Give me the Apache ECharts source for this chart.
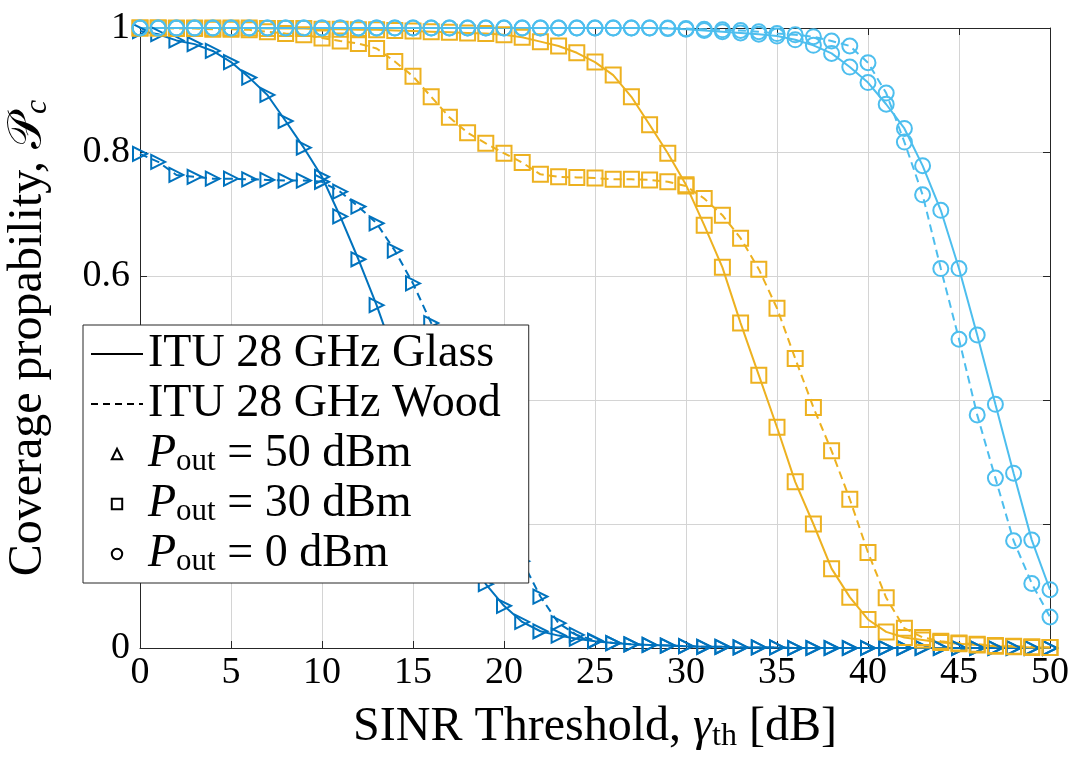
<!DOCTYPE html>
<html>
<head>
<meta charset="utf-8">
<script src="https://cdn.jsdelivr.net/npm/echarts@6/dist/echarts.min.js"></script>
<style>
  html, body { margin: 0; padding: 0; background: #fff; }
  #chart { width: 1071px; height: 758px; }
</style>
</head>
<body>
<div id="chart"></div>
<script>
// SINR threshold values [dB]
const sinrDb = [0,1,2,3,4,5,6,7,8,9,10,11,12,13,14,15,16,17,18,19,20,21,22,23,24,25,
  26,27,28,29,30,31,32,33,34,35,36,37,38,39,40,41,42,43,44,45,46,47,48,49,50];

// Coverage probability, P_out = 50 dBm
const glass50 = [0.995,0.990,0.980,0.974,0.963,0.945,0.920,0.892,0.850,0.807,
  0.760,0.696,0.627,0.553,0.470,0.385,0.305,0.230,0.160,0.103,
  0.068,0.042,0.027,0.020,0.015,0.011,0.008,0.006,0.005,0.004,
  0.003,0.002,0.002,0.001,0.001,0.001,0,0,0,0,
  0,0,0,0,0,0,0,0,0,0,0];
const wood50 = [0.797,0.784,0.763,0.760,0.757,0.757,0.756,0.755,0.754,0.754,
  0.752,0.736,0.712,0.685,0.641,0.588,0.524,0.450,0.370,0.290,
  0.210,0.140,0.083,0.040,0.021,0.012,0.008,0.006,0.005,0.004,
  0.003,0.002,0.002,0.001,0.001,0.001,0,0,0,0,
  0,0,0,0,0,0,0,0,0,0,0];

// Coverage probability, P_out = 30 dBm
const glass30 = [1.000,1.000,1.000,1.000,1.000,1.000,1.000,0.999,0.999,0.999,
  0.998,0.998,0.997,0.997,0.996,0.995,0.994,0.993,0.992,0.991,
  0.989,0.985,0.978,0.971,0.960,0.945,0.924,0.889,0.844,0.798,
  0.747,0.682,0.614,0.524,0.440,0.356,0.268,0.200,0.128,0.082,
  0.046,0.026,0.017,0.013,0.009,0.007,0.005,0.003,0.002,0.001,0.001];
const wood30 = [1.000,1.000,0.999,0.999,0.998,0.998,0.997,0.994,0.991,0.989,
  0.984,0.979,0.975,0.967,0.946,0.922,0.889,0.856,0.831,0.814,
  0.798,0.783,0.764,0.760,0.759,0.758,0.756,0.756,0.755,0.752,
  0.745,0.725,0.698,0.661,0.611,0.548,0.467,0.388,0.318,0.240,
  0.154,0.081,0.032,0.017,0.011,0.008,0.006,0.004,0.003,0.002,0.001];

// Coverage probability, P_out = 0 dBm
const glass0 = [1,1,1,1,1,1,1,1,1,1,
  1,1,1,1,1,1,1,1,1,1,
  1,1,1,1,1,1,1,1,1,0.999,
  0.998,0.996,0.994,0.992,0.990,0.987,0.981,0.972,0.959,0.937,
  0.912,0.877,0.838,0.778,0.706,0.612,0.505,0.393,0.282,0.174,0.094];
const wood0 = [1,1,1,1,1,1,1,1,1,1,
  1,1,1,1,1,1,1,1,1,1,
  1,1,1,1,1,1,1,1,1,1,
  0.999,0.998,0.997,0.996,0.994,0.991,0.989,0.986,0.979,0.971,
  0.944,0.895,0.816,0.731,0.612,0.498,0.376,0.274,0.173,0.104,0.050];

// Axis tick values
const xTicks = [0, 5, 10, 15, 20, 25, 30, 35, 40, 45, 50];
const yTicks = [0, 0.2, 0.4, 0.6, 0.8, 1];

const BLUE = '#0072BD';
const ORANGE = '#EDB120';
const CYAN = '#4DBEEE';
const SERIF = '"Liberation Serif", "DejaVu Serif", serif';
const DASH = [8, 5];

const pairs = ys => sinrDb.map((x, i) => [x, ys[i]]);

function curve(name, ys, color, dashed, symbol, size, rotate) {
  return {
    name: name,
    type: 'line',
    data: pairs(ys),
    clip: false,
    symbol: symbol,
    symbolSize: size,
    symbolRotate: rotate || 0,
    showAllSymbol: true,
    lineStyle: { color: color, width: 2, type: dashed ? DASH : 'solid' },
    itemStyle: { color: 'rgba(0,0,0,0)', borderColor: color, borderWidth: 2 },
    emphasis: { disabled: true },
    z: 3
  };
}

// Legend-only entries (no data)
const legendNames = ['ITU 28 GHz Glass', 'ITU 28 GHz Wood', 'Pout50', 'Pout30', 'Pout0'];
const legendLabels = {
  'Pout50': '{p|P}{s|out}{t| = 50 dBm}',
  'Pout30': '{p|P}{s|out}{t| = 30 dBm}',
  'Pout0': '{p|P}{s|out}{t| = 0 dBm}'
};
function keyLine(name, dashed) {
  return {
    name: name, type: 'line', data: [], symbol: 'circle',
    lineStyle: { color: '#000', width: 1.5, type: dashed ? [7, 5] : 'solid' },
    itemStyle: { color: '#000' }
  };
}
function keyMark(name, symbol) {
  return {
    name: name, type: 'line', data: [], symbol: symbol,
    lineStyle: { color: '#000', width: 1, opacity: 0 },
    itemStyle: { color: '#fff', borderColor: '#000', borderWidth: 1 }
  };
}

const chart = echarts.init(document.getElementById('chart'), null, { renderer: 'canvas' });

const axisLineStyle = { color: '#262626', width: 1 };
const gridLine = { show: true, lineStyle: { color: '#d4d4d4', width: 1 } };

chart.setOption({
  animation: false,
  backgroundColor: '#fff',
  grid: { left: 140, right: 21, top: 28, bottom: 110, containLabel: false, outerBoundsMode: 'none' },
  xAxis: [{
    type: 'value', min: 0, max: 50, interval: 5,
    axisLine: { show: true, onZero: false, lineStyle: axisLineStyle },
    axisTick: { show: true, inside: true, length: 7, lineStyle: axisLineStyle },
    axisLabel: {
      fontFamily: SERIF, fontSize: 38, color: '#000', margin: 6,
      formatter: v => xTicks.includes(v) ? String(v) : ''
    },
    splitLine: gridLine,
    name: '{n|SINR Threshold, }{g|γ}{s|th}{n| [dB]}',
    nameLocation: 'middle', nameGap: 53, nameMoveOverlap: false,
    nameTextStyle: {
      fontFamily: SERIF, color: '#000',
      rich: {
        n: { fontFamily: SERIF, fontSize: 48, color: '#000', lineHeight: 52 },
        g: { fontFamily: SERIF, fontSize: 48, fontStyle: 'italic', color: '#000', lineHeight: 52 },
        s: { fontFamily: SERIF, fontSize: 32, color: '#000', lineHeight: 52, verticalAlign: 'bottom', padding: [17, 0, 0, 0] }
      }
    }
  }, {
    type: 'value', min: 0, max: 50, interval: 5, position: 'top',
    axisLine: { show: true, onZero: false, lineStyle: axisLineStyle },
    axisTick: { show: true, inside: true, length: 7, lineStyle: axisLineStyle },
    axisLabel: { show: false }, splitLine: { show: false }
  }],
  yAxis: [{
    type: 'value', min: 0, max: 1, interval: 0.2,
    axisLine: { show: true, onZero: false, lineStyle: axisLineStyle },
    axisTick: { show: true, inside: true, length: 7, lineStyle: axisLineStyle },
    axisLabel: {
      fontFamily: SERIF, fontSize: 38, color: '#000', margin: 10,
      formatter: v => {
        const t = yTicks.find(k => Math.abs(k - v) < 1e-9);
        return t === undefined ? '' : String(t);
      }
    },
    splitLine: gridLine,
    name: '{n|Coverage propability, }{p|𝒫}{s|c}',
    nameLocation: 'middle', nameGap: 86, nameMoveOverlap: false,
    nameTextStyle: {
      fontFamily: SERIF, color: '#000',
      rich: {
        n: { fontFamily: SERIF, fontSize: 48, color: '#000', lineHeight: 52 },
        p: { fontFamily: SERIF, fontSize: 48, color: '#000', lineHeight: 52 },
        s: { fontFamily: SERIF, fontSize: 32, fontStyle: 'italic', color: '#000', lineHeight: 52, verticalAlign: 'bottom', padding: [17, 0, 0, 0] }
      }
    }
  }, {
    type: 'value', min: 0, max: 1, interval: 0.2, position: 'right',
    axisLine: { show: true, onZero: false, lineStyle: axisLineStyle },
    axisTick: { show: true, inside: true, length: 7, lineStyle: axisLineStyle },
    axisLabel: { show: false }, splitLine: { show: false }
  }],
  legend: {
    orient: 'vertical',
    left: 83, top: 325,
    padding: [6, 28, 6, 7],
    itemGap: 4,
    itemWidth: 52,
    itemHeight: 13,
    selectedMode: false,
    backgroundColor: '#fff',
    borderColor: '#262626',
    borderWidth: 1,
    z: 10,
    data: [
      { name: legendNames[0], itemStyle: { opacity: 0 } },
      { name: legendNames[1], itemStyle: { opacity: 0 } },
      { name: legendNames[2] },
      { name: legendNames[3] },
      { name: legendNames[4] }
    ],
    formatter: name => legendLabels[name] || name,
    textStyle: {
      fontFamily: SERIF, fontSize: 46, color: '#000', lineHeight: 46,
      rich: {
        p: { fontFamily: SERIF, fontSize: 46, fontStyle: 'italic', color: '#000', lineHeight: 46 },
        s: { fontFamily: SERIF, fontSize: 31, color: '#000', lineHeight: 46, verticalAlign: 'bottom', padding: [14, 0, 0, 0] },
        t: { fontFamily: SERIF, fontSize: 46, color: '#000', lineHeight: 46 }
      }
    }
  },
  series: [
    curve('glass50', glass50, BLUE, false, 'triangle', 14, -90),
    curve('wood50', wood50, BLUE, true, 'triangle', 14, -90),
    curve('glass30', glass30, ORANGE, false, 'rect', 15),
    curve('wood30', wood30, ORANGE, true, 'rect', 15),
    curve('glass0', glass0, CYAN, false, 'circle', 15),
    curve('wood0', wood0, CYAN, true, 'circle', 15),
    keyLine(legendNames[0], false),
    keyLine(legendNames[1], true),
    keyMark(legendNames[2], 'triangle'),
    keyMark(legendNames[3], 'rect'),
    keyMark(legendNames[4], 'circle')
  ]
});
</script>
</body>
</html>
